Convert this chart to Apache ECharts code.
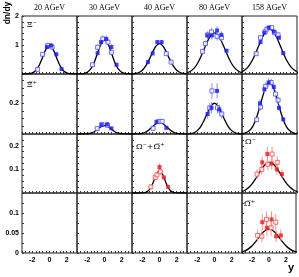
<!DOCTYPE html>
<html><head><meta charset="utf-8">
<script src="https://cdn.jsdelivr.net/npm/echarts@6/dist/echarts.min.js"></script>
<style>html,body{margin:0;padding:0;background:#fff}#c{width:299px;height:277px}</style>
</head><body><div id="c"></div><script>
// ---- tick / category labels ----
const columnTitles = ['20 AGeV', '30 AGeV', '40 AGeV', '80 AGeV', '158 AGeV'];
const xTickLabels = [-2, 0, 2];
const yTickLabels = [[1, 2], [0.2], [0.1, 0.2], [0, 0.05, 0.1]];
const yMaxByRow = [2, 0.39, 0.25, 0.15];

// fit-curve sample positions (rapidity)
const curveX = [-3.2,-2.8,-2.4,-2.0,-1.6,-1.2,-0.8,-0.4,0,0.4,0.8,1.2,1.6,2.0,2.4,2.8,3.2];

// ---- Xi- (row 1): [y, dn/dy, error] ----
const xi20Filled = [[-0.3,0.93,0.1],[0.2,0.98,0.1],[0.8,0.68,0.06],[1.4,0.17,0.03]];
const xi20Open   = [[-1.4,0.16,0.03],[-0.8,0.68,0.06],[-0.2,0.98,0.1],[0.3,0.93,0.1]];
const xi20Curve  = [0,0.002,0.009,0.037,0.12,0.30,0.58,0.86,0.98,0.86,0.58,0.30,0.12,0.037,0.009,0.002,0];

const xi30Filled = [[-0.8,0.72,0.07],[-0.4,1.1,0.12],[0.2,1.21,0.12],[0.8,0.93,0.1],[1.4,0.32,0.04]];
const xi30Open   = [[-1.4,0.32,0.04],[-0.8,0.92,0.1],[-0.2,1.21,0.12],[0.4,1.1,0.12],[0.8,0.75,0.07]];
const xi30Curve  = [0.001,0.003,0.016,0.06,0.174,0.40,0.727,1.04,1.17,1.04,0.727,0.40,0.174,0.06,0.016,0.003,0.001];

const xi40Filled = [[-1.35,0.41,0.04],[-0.8,0.71,0.05],[-0.25,1.1,0.06],[0.25,1.1,0.06]];
const xi40Open   = [[0.8,0.7,0.05],[1.35,0.41,0.04]];
const xi40Curve  = [0.005,0.018,0.052,0.131,0.277,0.496,0.753,0.966,1.05,0.966,0.753,0.496,0.277,0.131,0.052,0.018,0.005];

const xi80Filled = [[-0.8,1.33,0.12],[-0.3,1.33,0.15],[0.3,1.5,0.15],[0.8,1.35,0.12],[1.4,0.8,0.08]];
const xi80Open   = [[-1.4,0.78,0.08],[-1.05,1.05,0.1],[-0.8,1.35,0.12],[-0.35,1.45,0.15],[0.3,1.3,0.15],[0.8,1.25,0.12]];
const xi80Curve  = [0.041,0.093,0.192,0.354,0.584,0.861,1.137,1.343,1.42,1.343,1.137,0.861,0.584,0.354,0.192,0.093,0.041];

const xi158Filled = [[-1.05,1.1,0.07],[-0.6,1.42,0.07],[-0.1,1.6,0.07],[0.5,1.46,0.07],[1.1,1.25,0.07],[1.6,0.72,0.05]];
const xi158Open   = [[-1.55,0.7,0.05],[-1.05,1.25,0.07],[-0.5,1.47,0.07],[-0.3,1.55,0.07],[0.25,1.6,0.07],[0.6,1.42,0.07],[1.0,1.35,0.07]];
const xi158Curve  = [0.075,0.152,0.282,0.475,0.727,1.012,1.282,1.478,1.55,1.478,1.282,1.012,0.727,0.475,0.282,0.152,0.075];

// ---- anti-Xi+ (row 2) ----
const axi30Filled = [[-0.35,0.058,0.012],[0.3,0.063,0.012],[0.8,0.037,0.008]];
const axi30Open   = [[-0.85,0.035,0.008],[-0.3,0.062,0.012],[0.35,0.057,0.012]];
const axi30Curve  = [0,0,0.0003,0.0016,0.0057,0.015,0.031,0.048,0.055,0.048,0.031,0.015,0.0057,0.0016,0.0003,0,0];

const axi40Filled = [[-0.35,0.08,0.01],[0.8,0.04,0.007]];
const axi40Open   = [[-0.75,0.037,0.007],[-0.05,0.082,0.01],[0.3,0.082,0.01]];
const axi40Curve  = [0,0.0003,0.0014,0.0047,0.013,0.028,0.048,0.067,0.075,0.067,0.048,0.028,0.013,0.0047,0.0014,0.0003,0];

const axi80Filled = [[-0.8,0.13,0.03],[-0.35,0.17,0.035],[0.3,0.28,0.05],[0.55,0.16,0.03]];
const axi80Open   = [[-0.55,0.17,0.03],[-0.3,0.28,0.05],[0.35,0.17,0.035],[0.85,0.13,0.03]];
const axi80Curve  = [0.0007,0.0026,0.008,0.022,0.048,0.09,0.14,0.183,0.2,0.183,0.14,0.09,0.048,0.022,0.008,0.0026,0.0007];

const axi158Filled = [[-1.1,0.2,0.025],[-0.6,0.29,0.025],[-0.1,0.335,0.025],[0.5,0.305,0.025],[1.1,0.17,0.02],[1.6,0.095,0.015]];
const axi158Open   = [[-1.5,0.093,0.015],[-1.05,0.175,0.02],[-0.45,0.31,0.025],[0.2,0.335,0.025],[0.7,0.26,0.025],[1.0,0.22,0.025]];
const axi158Curve  = [0.002,0.0066,0.019,0.045,0.093,0.163,0.243,0.309,0.335,0.309,0.243,0.163,0.093,0.045,0.019,0.0066,0.002];

// ---- Omega (rows 3-4) ----
const om40Filled = [[0.0,0.11,0.015],[0.5,0.066,0.01],[1.0,0.026,0.006]];
const om40Open   = [[-1.0,0.026,0.006],[-0.5,0.066,0.01],[-0.3,0.077,0.01],[0.1,0.09,0.015]];
const om40Curve  = [0,0,0,0.0004,0.0027,0.013,0.039,0.076,0.095,0.076,0.039,0.013,0.0027,0.0004,0,0,0];

const omM158Filled = [[-0.85,0.13,0.025],[-0.25,0.165,0.03],[0.25,0.125,0.025],[0.85,0.1,0.022],[1.45,0.08,0.02]];
const omM158Open   = [[-1.45,0.08,0.02],[-0.9,0.1,0.022],[-0.2,0.122,0.025],[0.3,0.165,0.03],[0.9,0.13,0.025]];
const omM158Curve  = [0.006,0.013,0.024,0.04,0.061,0.085,0.108,0.124,0.13,0.124,0.108,0.085,0.061,0.04,0.024,0.013,0.006];

const omP158Filled = [[-0.8,0.077,0.02],[-0.25,0.063,0.02],[0.3,0.084,0.02],[0.85,0.042,0.015],[1.4,0.044,0.015]];
const omP158Open   = [[-1.35,0.044,0.015],[-0.85,0.042,0.015],[-0.3,0.084,0.02],[0.25,0.063,0.02],[0.8,0.077,0.02]];
const omP158Curve  = [0.003,0.006,0.011,0.018,0.028,0.039,0.05,0.057,0.06,0.057,0.05,0.039,0.028,0.018,0.011,0.006,0.003];

// ---- layout ----
const colLeft = [22, 77, 132, 187, 242];
const colWidth = 55;
const rowTop = [16, 74, 134, 193];
const rowHeight = [58, 60, 59, 60];
const yInterval = [0.2, 0.05, 0.025, 0.025];

const BLUE = {fill:'#1414ff', open:'#4a4aff', err:'#8e8eff'};
const RED = {fill:'#ff1010', open:'#ff4848', err:'#ff8e8e'};

const panels = [
  {row:0,col:0,f:xi20Filled,o:xi20Open,c:xi20Curve,k:BLUE},
  {row:0,col:1,f:xi30Filled,o:xi30Open,c:xi30Curve,k:BLUE},
  {row:0,col:2,f:xi40Filled,o:xi40Open,c:xi40Curve,k:BLUE},
  {row:0,col:3,f:xi80Filled,o:xi80Open,c:xi80Curve,k:BLUE},
  {row:0,col:4,f:xi158Filled,o:xi158Open,c:xi158Curve,k:BLUE},
  {row:1,col:1,f:axi30Filled,o:axi30Open,c:axi30Curve,k:BLUE},
  {row:1,col:2,f:axi40Filled,o:axi40Open,c:axi40Curve,k:BLUE},
  {row:1,col:3,f:axi80Filled,o:axi80Open,c:axi80Curve,k:BLUE},
  {row:1,col:4,f:axi158Filled,o:axi158Open,c:axi158Curve,k:BLUE},
  {row:2,col:2,f:om40Filled,o:om40Open,c:om40Curve,k:RED},
  {row:2,col:4,f:omM158Filled,o:omM158Open,c:omM158Curve,k:RED},
  {row:3,col:4,f:omP158Filled,o:omP158Open,c:omP158Curve,k:RED}
];

const near = (a, b) => Math.abs(a - b) < 1e-6;
const grids = [], xAxes = [], yAxes = [], series = [];
for (let r = 0; r < 4; r++) {
  for (let c = 0; c < 5; c++) {
    const i = r * 5 + c;
    grids.push({left: colLeft[c], top: rowTop[r], width: colWidth, height: rowHeight[r],
      show: true, borderColor: '#222', borderWidth: 1, backgroundColor: 'transparent', containLabel: false});
    xAxes.push({gridIndex: i, type: 'value', min: -3.2, max: 3.2, interval: 0.4, position: 'bottom',
      axisLine: {show: false, onZero: false}, splitLine: {show: false},
      axisTick: {show: true, inside: true, length: 2, lineStyle: {color: '#333', width: 1}},
      axisLabel: {show: r === 3, margin: 4, fontSize: 7, fontWeight: 'bold', color: '#000',
        fontFamily: 'Liberation Sans, Arial, sans-serif',
        formatter: v => xTickLabels.some(t => near(t, v)) ? String(Math.round(v)) : ''}});
    yAxes.push({gridIndex: i, type: 'value', min: 0, max: yMaxByRow[r], interval: yInterval[r], position: 'left',
      axisLine: {show: false, onZero: false}, splitLine: {show: false},
      axisTick: {show: true, inside: true, length: 2, lineStyle: {color: '#333', width: 1}},
      axisLabel: {show: c === 0, margin: 3, fontSize: 7, fontWeight: 'bold', color: '#000',
        fontFamily: 'Liberation Sans, Arial, sans-serif',
        formatter: v => { const t = yTickLabels[r].find(t => near(t, v)); return t === undefined ? '' : String(t); }}});
  }
}

panels.forEach(p => {
  const i = p.row * 5 + p.col;
  series.push({type: 'line', xAxisIndex: i, yAxisIndex: i, smooth: 0.35, showSymbol: false, silent: true,
    data: curveX.map((x, k) => [x, p.c[k]]), lineStyle: {color: '#000', width: 1.3}, z: 2});
  const errData = p.f.concat(p.o);
  series.push({type: 'custom', xAxisIndex: i, yAxisIndex: i, coordinateSystem: 'cartesian2d', z: 3,
    encode: {x: 0, y: 1}, data: errData, clip: true,
    renderItem: (params, api) => {
      const x = api.value(0), y = api.value(1), e = api.value(2);
      const a = api.coord([x, y - e]), b = api.coord([x, y + e]);
      return {type: 'line', shape: {x1: a[0], y1: a[1], x2: b[0], y2: b[1]},
        style: {stroke: p.k.err, lineWidth: 1}};
    }});
  series.push({type: 'scatter', xAxisIndex: i, yAxisIndex: i, symbol: 'rect', symbolSize: 4, z: 4,
    data: p.o.map(d => [d[0], d[1]]),
    itemStyle: {color: '#fff', borderColor: p.k.open, borderWidth: 1}});
  series.push({type: 'scatter', xAxisIndex: i, yAxisIndex: i, symbol: 'rect', symbolSize: 4, z: 5,
    data: p.f.map(d => [d[0], d[1]]),
    itemStyle: {color: p.k.fill}});
});

const serif = 'Liberation Serif, Times New Roman, serif';
const graphic = [];
columnTitles.forEach((t, c) => graphic.push({type: 'text', x: colLeft[c] + colWidth / 2, y: 8,
  style: {text: t, font: '8px ' + serif, fill: '#000', textAlign: 'center', textVerticalAlign: 'middle'}}));
graphic.push({type: 'text', x: 8, y: 13, rotation: Math.PI / 2,
  style: {text: 'dn/dy', font: 'bold 8.5px Liberation Sans, Arial, sans-serif', fill: '#000', textAlign: 'center', textVerticalAlign: 'middle'}});
graphic.push({type: 'text', x: 291, y: 268,
  style: {text: 'y', font: 'bold 11px Liberation Sans, Arial, sans-serif', fill: '#000', textAlign: 'center', textVerticalAlign: 'middle'}});
const panelLabels = [
  {t: 'Ξ⁻', x: 27, y: 25},
  {t: 'Ξ̅⁺', x: 27, y: 85},
  {t: 'Ω⁻+Ω̅⁺', x: 136, y: 147},
  {t: 'Ω⁻', x: 245, y: 142},
  {t: 'Ω̅⁺', x: 244, y: 204}
];
panelLabels.forEach(l => graphic.push({type: 'text', x: l.x, y: l.y,
  style: {text: l.t, font: '8px DejaVu Serif, ' + serif, fill: '#000', textAlign: 'left', textVerticalAlign: 'middle'}}));

const chart = echarts.init(document.getElementById('c'), null, {renderer: 'canvas'});
chart.setOption({animation: false, grid: grids, xAxis: xAxes, yAxis: yAxes, series: series, graphic: graphic});
</script></body></html>
